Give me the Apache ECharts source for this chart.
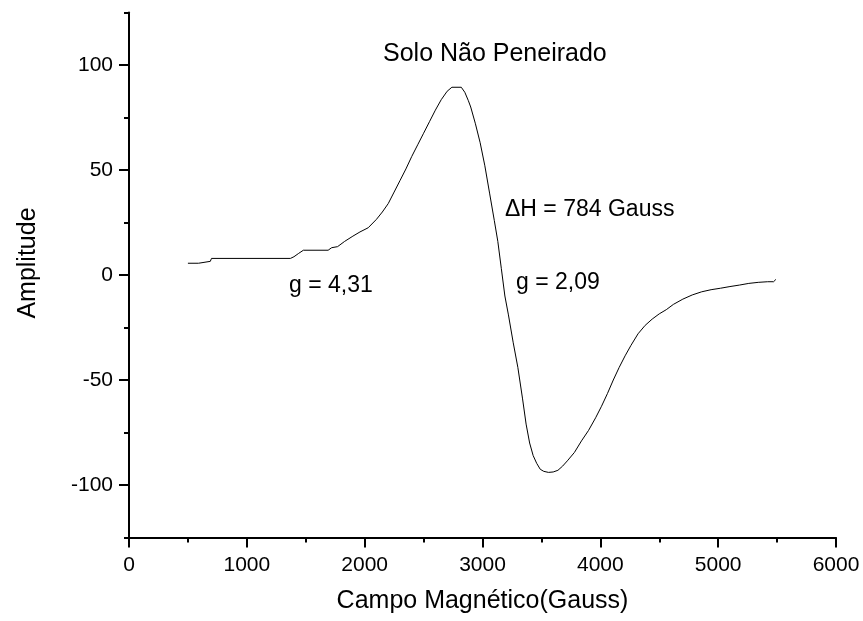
<!DOCTYPE html>
<html>
<head>
<meta charset="utf-8">
<script src="https://cdn.jsdelivr.net/npm/echarts@6/dist/echarts.min.js"></script>
<style>
  html, body { margin: 0; padding: 0; background: #fff; }
  #chart { width: 863px; height: 621px; }
</style>
</head>
<body>
<div id="chart"></div>
<script>
const campo = [500, 590, 600, 690, 700, 1370, 1400, 1440, 1480, 1690, 1720, 1770, 1830, 1900, 1960, 2030, 2100, 2150, 2200, 2250, 2300, 2350, 2400, 2450, 2500, 2550, 2600, 2650, 2700, 2740, 2820, 2850, 2880, 2900, 2940, 2980, 3020, 3060, 3100, 3130, 3160, 3190, 3220, 3260, 3300, 3340, 3370, 3400, 3430, 3460, 3490, 3520, 3560, 3600, 3640, 3680, 3720, 3780, 3840, 3900, 3960, 4010, 4060, 4110, 4160, 4210, 4260, 4320, 4380, 4440, 4500, 4560, 4620, 4700, 4780, 4860, 4940, 5020, 5100, 5180, 5260, 5340, 5420, 5470, 5490]
const amplitude = [5.6, 5.6, 6.5, 6.5, 7.9, 7.9, 8.7, 10.3, 11.8, 11.8, 13, 13.5, 16, 18.5, 20.5, 22.5, 26.5, 30, 34, 39.5, 45, 50.5, 56.5, 62, 67.5, 73, 78.5, 83.5, 87.5, 89.4, 89.4, 87, 83, 80, 72, 63, 52, 39, 26, 16, 3, -10, -19, -32, -44, -59, -71, -80, -86, -89.7, -92.5, -93.5, -94, -93.8, -93, -91, -88.5, -84.5, -79, -74, -68, -62.5, -56.5, -50, -44, -38.5, -33.5, -28, -24, -21, -18.5, -16.5, -14, -11.5, -9.5, -8, -7, -6.3, -5.5, -4.8, -4, -3.5, -3.2, -3.2, -2.1]

const xTicksMajor = 1000
const xTicksMinor = 500
const yTicksMajor = 50
const yTicksMinor = 25

const FONT = 'Liberation Sans'
const chart = echarts.init(document.getElementById('chart'))

const axisLine = { show: true, onZero: false, lineStyle: { color: '#000', width: 2 } }

chart.setOption({
  animation: false,
  backgroundColor: '#fff',
  grid: [
    { left: 129, right: 27, top: 12.5, bottom: 83.5 },
    // só para os ticks principais de -100 a 100
    { left: 129, right: 27, top: 65, bottom: 136 }
  ],
  xAxis: [
    {
      type: 'value', gridIndex: 0, position: 'bottom', min: 0, max: 6000, interval: xTicksMajor,
      axisLine,
      axisTick: { show: true, length: 10, lineStyle: { color: '#000', width: 2 } },
      axisLabel: { color: '#000', fontFamily: FONT, fontSize: 21, margin: 17, formatter: v => String(v) },
      splitLine: { show: false },
      name: 'Campo Magnético(Gauss)',
      nameLocation: 'middle',
      nameGap: 51,
      nameTextStyle: { color: '#000', fontFamily: FONT, fontSize: 25 }
    },
    {
      type: 'value', gridIndex: 0, position: 'bottom', offset: 0, min: 0, max: 6000, interval: xTicksMinor,
      axisLine: { show: false, onZero: false },
      axisTick: { show: true, length: 5, lineStyle: { color: '#000', width: 2 } },
      axisLabel: { show: false },
      splitLine: { show: false }
    },
    { type: 'value', gridIndex: 1, min: 0, max: 6000, show: false }
  ],
  yAxis: [
    {
      type: 'value', gridIndex: 0, position: 'left', min: -125, max: 125, interval: yTicksMinor,
      axisLine,
      axisTick: { show: true, length: 5, lineStyle: { color: '#000', width: 2 } },
      axisLabel: { show: false },
      splitLine: { show: false },
      name: 'Amplitude',
      nameLocation: 'middle',
      nameGap: 88,
      nameRotate: 90,
      nameTextStyle: { color: '#000', fontFamily: FONT, fontSize: 25, padding: [0, 0, 0, 24] }
    },
    {
      type: 'value', gridIndex: 1, position: 'left', min: -100, max: 100, interval: yTicksMajor,
      axisLine: { show: false, onZero: false },
      axisTick: { show: true, length: 10, lineStyle: { color: '#000', width: 2 } },
      axisLabel: { color: '#000', fontFamily: FONT, fontSize: 21, margin: 16 },
      splitLine: { show: false }
    }
  ],
  series: [{
    type: 'line',
    xAxisIndex: 0,
    yAxisIndex: 0,
    data: campo.map((c, i) => [c, amplitude[i]]),
    showSymbol: false,
    lineStyle: { color: '#000', width: 1 }
  }],
  graphic: [
    { type: 'text', left: 383, top: 42, style: { text: 'Solo Não Peneirado', fontFamily: FONT, fontSize: 25, fill: '#000' } },
    { type: 'text', left: 505, top: 198, style: { text: 'ΔH = 784 Gauss', fontFamily: FONT, fontSize: 23, fill: '#000' } },
    { type: 'text', left: 516, top: 271, style: { text: 'g = 2,09', fontFamily: FONT, fontSize: 23, fill: '#000' } },
    { type: 'text', left: 289, top: 274, style: { text: 'g = 4,31', fontFamily: FONT, fontSize: 23, fill: '#000' } }
  ]
})
</script>
</body>
</html>
